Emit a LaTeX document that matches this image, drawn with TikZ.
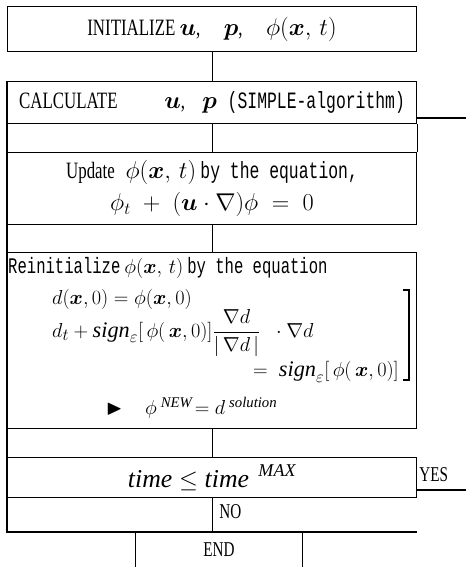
\documentclass[tikz,border=0pt]{standalone}
\usepackage{amsmath}
\usepackage{amssymb}
\usepackage{fontspec}
\setmainfont[FakeStretch=0.72]{Liberation Serif}
\newfontfamily\codefont[FakeStretch=0.7]{Liberation Mono}
\newfontfamily\wordfont{Liberation Serif}
\newcommand{\word}[1]{\text{\wordfont\itshape #1}}
\usetikzlibrary{positioning}

\begin{document}
\begin{tikzpicture}[
        x=0.03cm, y=-0.03cm,
        font=\fontsize{20}{24}\selectfont,
        block/.style={draw, line width=0.9pt, minimum width=12.27cm, anchor=north west, inner sep=0pt, align=center},
        flow/.style={line width=0.9pt},
        txt/.style={inner sep=0pt, anchor=west, font=\fontsize{19}{22}\selectfont},
        tag/.style={inner sep=1pt, font=\fontsize{18}{20}\selectfont}
    ]
    \useasboundingbox (0,0) rectangle (466,567);

    % Blocks
    \node[block, minimum height=1.35cm] (init) at (7,6)
        {INITIALIZE $\boldsymbol{u}$,\quad $\boldsymbol{p}$,\quad $\phi(\boldsymbol{x},\,t)$};
    \node[block, minimum height=1.26cm] (calc) at (7,81)
        {CALCULATE\qquad $\boldsymbol{u}$,\;\; $\boldsymbol{p}$\; {\codefont(SIMPLE-algorithm)}};
    \node[block, minimum height=2.16cm] (update) at (7,152)
        {Update\; $\phi(\boldsymbol{x},\,t)$ {\codefont by the equation,}\\[3pt]
         $\phi_t \;+\; (\boldsymbol{u}\cdot\nabla)\phi \;=\; 0$};
    \node[block, minimum height=5.28cm] (reinit) at (7,252) {};
    \node[block, minimum height=1.2cm, font=\fontsize{22}{26}\selectfont] (cond) at (7,457)
        {$\word{time}\le\word{time}^{\;\;\word{MAX}}$};
    \node[tag, minimum width=5.01cm, minimum height=1.05cm, anchor=north] (fin) at (219,532) {END};

    % Reinitialize text
    \node[txt] (re1) at (8,268)
        {{\codefont Reinitialize} $\phi(\boldsymbol{x},\,t)$ {\codefont by the equation}};
    \node[txt] (re2) at (52,299) {$d(\boldsymbol{x},0)=\phi(\boldsymbol{x},0)$};
    \node[txt] (re3) at (52,333)
        {$d_t+\word{sign}_{\varepsilon}[\,\phi(\,\boldsymbol{x},0)]\dfrac{\nabla d}{|\,\nabla d\,|}\;\;\cdot\nabla d$};
    \node[txt, anchor=east] (re4) at (399,372) {$=\;\word{sign}_{\varepsilon}[\,\phi(\,\boldsymbol{x},0)]$};
    \node[txt, font=\fontsize{18}{21}\selectfont] (re5) at (106,408)
        {$\blacktriangleright\;\;\; \phi^{\;\word{NEW}}\!= d^{\;\word{solution}}$};
    \draw[flow] (403,290) -- (409,290) -- (409,380) -- (403,380);

    % Connectors
    \coordinate (loopin) at (466,118);
    \coordinate (yesout) at (466,490);
    \coordinate (loopend) at (7,532);
    \draw[flow] (init.south) -- (calc.north);
    \draw[flow] (calc.south) -- (update.north);
    \draw[flow] (calc.south east) -- (update.north east);
    \draw[flow] (update.south) -- (reinit.north);
    \draw[flow] (reinit.south) -- (cond.north);
    \draw[flow] (cond.south) -- (cond.south |- loopend);
    \draw[flow] (calc.north west) -- (loopend) -- (loopend -| calc.east);
    \draw[flow] (calc.east |- loopin) -- (loopin);
    \draw[flow] (cond.east |- yesout) -- (yesout);
    \draw[flow] (fin.north west) -- (fin.south west);
    \draw[flow] (fin.north east) -- (fin.south east);

    % Labels
    \node[tag, anchor=west] (yes) at (418,475) {YES};
    \node[tag, anchor=west] (no) at (218,512) {NO};
\end{tikzpicture}
\end{document}
